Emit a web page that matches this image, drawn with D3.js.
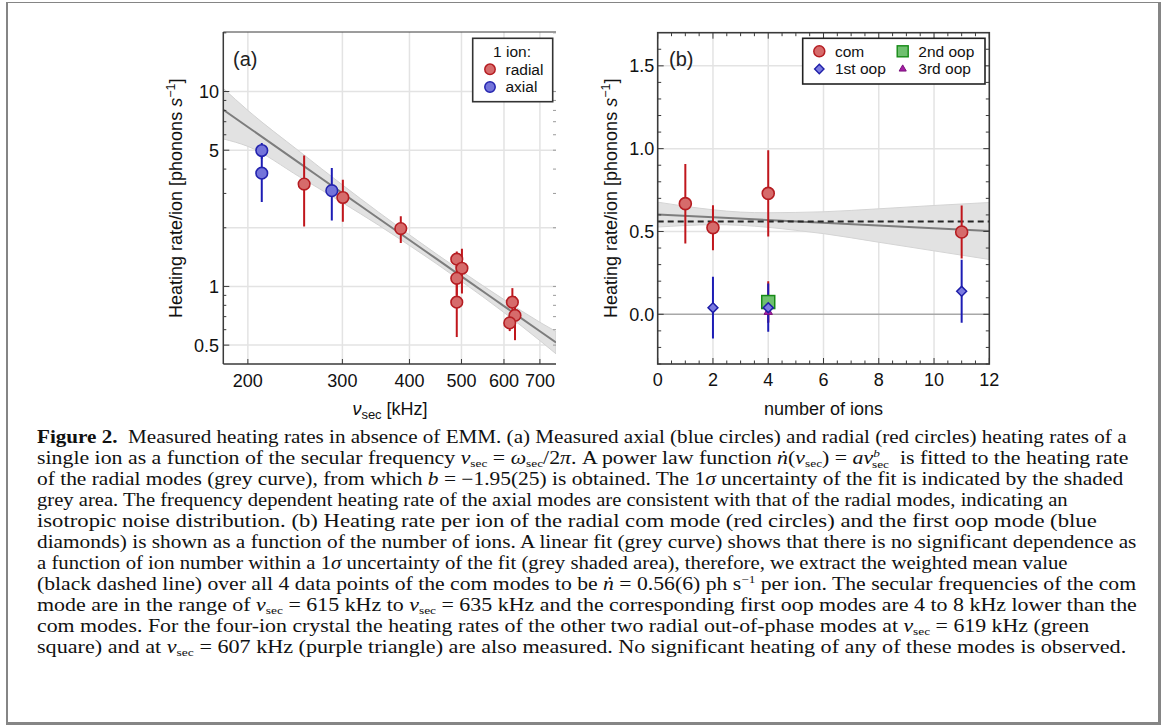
<!DOCTYPE html>
<html>
<head>
<meta charset="utf-8">
<script src="https://cdn.jsdelivr.net/npm/d3@7"></script>
<style>
  html, body { margin: 0; padding: 0; background: #fff; }
  svg { display: block; }
  .sans { font-family: "Liberation Sans", Arial, sans-serif; }
  .serif { font-family: "Liberation Serif", "Times New Roman", serif; }
</style>
</head>
<body>
<svg id="fig" width="1174" height="726"></svg>
<script>
// ---------- Panel (a): single ion, heating rate vs secular frequency ----------
const radialFreq = [254.6, 300.6, 385.4, 490, 501, 490, 490, 622, 629, 615];
const radialRate = [3.35, 2.86, 1.98, 1.38, 1.24, 1.10, 0.83, 0.83, 0.71, 0.65];
const radialLo   = [2.03, 2.15, 1.67, 1.25, 0.92, 0.90, 0.55, 0.68, 0.53, 0.59];
const radialHi   = [4.70, 3.53, 2.29, 1.51, 1.56, 1.30, 1.11, 0.98, 0.89, 0.71];

const axialFreq = [212.3, 212.3, 286.7];
const axialRate = [4.98, 3.81, 3.10];
const axialLo   = [4.52, 2.71, 2.18];
const axialHi   = [5.44, 4.91, 4.05];

// power-law fit and its 1-sigma band
const fitFreq   = [180, 200, 250, 300, 350, 400, 450, 500, 600, 700, 750];
const fitRate   = [8.06, 6.58, 4.28, 3.01, 2.239, 1.73, 1.380, 1.127, 0.793, 0.589, 0.516];
const fitBandLo = [5.71, 5.23, 3.64, 2.69, 2.066, 1.622, 1.303, 1.062, 0.735, 0.527, 0.451];
const fitBandHi = [10.38, 8.00, 4.91, 3.32, 2.41, 1.841, 1.462, 1.197, 0.856, 0.655, 0.587];

const freqTicks = [200, 300, 400, 500, 600, 700];
const rateTicksA = [0.5, 1, 5, 10];
const rateTickLabelsA = ["0.5", "1", "5", "10"];
const rateGridA = [0.5, 1, 2, 5, 10];
const rateMinorA = [0.6, 0.7, 0.8, 0.9, 2, 3, 4, 6, 7, 8, 9, 20];

// ---------- Panel (b): heating rate per ion vs number of ions ----------
const comIons = [1, 2, 4, 11];
const comRate = [0.668, 0.523, 0.730, 0.497];
const comErr  = [0.240, 0.136, 0.260, 0.160];

const oop1Ions = [2, 4, 11];
const oop1Rate = [0.040, 0.040, 0.139];
const oop1Err  = [0.186, 0.146, 0.190];

const oop2Ions = [4];
const oop2Rate = [0.074];
const oop2Err  = [0.126];

const oop3Ions = [4];
const oop3Rate = [0.014];
const oop3Err  = [0.060];

const linFitIons = [0, 12];
const linFitRate = [0.602, 0.503];
const linBandIons = [0, 1, 2, 3, 4, 5, 6, 8, 10, 12];
const linBandLo   = [0.527, 0.536, 0.541, 0.537, 0.525, 0.507, 0.487, 0.435, 0.383, 0.331];
const linBandHi   = [0.677, 0.652, 0.631, 0.617, 0.613, 0.615, 0.619, 0.637, 0.657, 0.675];
const meanRate = 0.56;

const ionTicks = [0, 2, 4, 6, 8, 10, 12];
const rateTicksB = [0.0, 0.5, 1.0, 1.5];

// ---------- Caption ----------
const captionLines = [
  [["Figure 2.", "b"], ["  Measured heating rates in absence of EMM. (a) Measured axial (blue circles) and radial (red circles) heating rates of a", ""]],
  [["single ion as a function of the secular frequency ", ""], ["ν", "i"], ["sec", "sub"], [" = ", ""], ["ω", "i"], ["sec", "sub"], ["/2", ""], ["π", "i"], [". A power law function ", ""], ["ṅ", "i"], ["(", ""], ["ν", "i"], ["sec", "sub"], [") = ", ""], ["aν", "i"], ["b", "supi"], ["sec", "subx"], ["  is fitted to the heating rate", ""]],
  [["of the radial modes (grey curve), from which ", ""], ["b", "i"], [" = −1.95(25) is obtained. The 1", ""], ["σ", "i"], [" uncertainty of the fit is indicated by the shaded", ""]],
  [["grey area. The frequency dependent heating rate of the axial modes are consistent with that of the radial modes, indicating an", ""]],
  [["isotropic noise distribution. (b) Heating rate per ion of the radial com mode (red circles) and the first oop mode (blue", ""]],
  [["diamonds) is shown as a function of the number of ions. A linear fit (grey curve) shows that there is no significant dependence as", ""]],
  [["a function of ion number within a 1", ""], ["σ", "i"], [" uncertainty of the fit (grey shaded area), therefore, we extract the weighted mean value", ""]],
  [["(black dashed line) over all 4 data points of the com modes to be ", ""], ["ṅ", "i"], [" = 0.56(6) ph s", ""], ["−1", "sup"], [" per ion. The secular frequencies of the com", ""]],
  [["mode are in the range of ", ""], ["ν", "i"], ["sec", "sub"], [" = 615 kHz to ", ""], ["ν", "i"], ["sec", "sub"], [" = 635 kHz and the corresponding first oop modes are 4 to 8 kHz lower than the", ""]],
  [["com modes. For the four-ion crystal the heating rates of the other two radial out-of-phase modes at ", ""], ["ν", "i"], ["sec", "sub"], [" = 619 kHz (green", ""]],
  [["square) and at ", ""], ["ν", "i"], ["sec", "sub"], [" = 607 kHz (purple triangle) are also measured. No significant heating of any of these modes is observed.", ""]]
];
const captionLineEnds = [1127, 1137, 1124, 1068, 1097, 1137, 1068, 1137, 1138, 1090, 1127];

// ---------- Drawing ----------
const svg = d3.select("#fig");
svg.append("rect").attr("width", 1174).attr("height", 726).attr("fill", "#fff");

// outer frame of the figure box
const frameCol = "#858585";
svg.append("line").attr("x1", 7).attr("x2", 7).attr("y1", 2).attr("y2", 725).attr("stroke", frameCol).attr("stroke-width", 2);
svg.append("line").attr("x1", 6).attr("x2", 1161).attr("y1", 2.5).attr("y2", 2.5).attr("stroke", frameCol).attr("stroke-width", 1);
svg.append("line").attr("x1", 1159.5).attr("x2", 1159.5).attr("y1", 2).attr("y2", 725).attr("stroke", frameCol).attr("stroke-width", 3);
svg.append("line").attr("x1", 6).attr("x2", 1161).attr("y1", 723.5).attr("y2", 723.5).attr("stroke", frameCol).attr("stroke-width", 3);

const defs = svg.append("defs");
const axisCol = "#3a3a3a";
const gridCol = "#e3e3e3";
const redFill = "#d66b6b", redStroke = "#b51d22", redBar = "#c0161c";
const blueFill = "#7474da", blueStroke = "#2323ae", blueBar = "#1d1db5";
const tickFont = 18, titleFont = 18;

// ===== Panel (a) =====
const A = { l: 223.3, r: 556, t: 32, b: 364 };
const xA = d3.scaleLog().domain([180, 750]).range([A.l, A.r]);
const yA = d3.scaleLog().domain([0.4, 20.2]).range([A.b, A.t]);
defs.append("clipPath").attr("id", "clipA").append("rect")
  .attr("x", A.l).attr("y", A.t).attr("width", A.r - A.l).attr("height", A.b - A.t);

const gA = svg.append("g");
const gridA = gA.append("g");
gridA.selectAll("line.v").data(freqTicks).join("line")
  .attr("x1", d => xA(d)).attr("x2", d => xA(d)).attr("y1", A.t).attr("y2", A.b)
  .attr("stroke", gridCol).attr("stroke-width", 1.5);
gridA.selectAll("line.h").data(rateGridA).join("line")
  .attr("x1", A.l).attr("x2", A.r).attr("y1", d => yA(d)).attr("y2", d => yA(d))
  .attr("stroke", gridCol).attr("stroke-width", 1.5);

const plotA = gA.append("g").attr("clip-path", "url(#clipA)");
const bandA = fitFreq.map((f, i) => ({ f, lo: fitBandLo[i], hi: fitBandHi[i] }));
plotA.append("path").datum(bandA)
  .attr("d", d3.area().curve(d3.curveMonotoneX).x(d => xA(d.f)).y0(d => yA(d.lo)).y1(d => yA(d.hi)))
  .attr("fill", "#e2e2e2").attr("stroke", "#d2d2d2").attr("stroke-width", 1);
plotA.append("path").datum(fitFreq.map((f, i) => [f, fitRate[i]]))
  .attr("d", d3.line().curve(d3.curveMonotoneX).x(d => xA(d[0])).y(d => yA(d[1])))
  .attr("fill", "none").attr("stroke", "#7d7d7d").attr("stroke-width", 2);

// frame & ticks (a)
gA.append("line").attr("x1", A.l).attr("x2", A.l).attr("y1", A.t).attr("y2", A.b).attr("stroke", axisCol).attr("stroke-width", 1.5);
gA.append("line").attr("x1", A.l).attr("x2", A.r).attr("y1", A.b).attr("y2", A.b).attr("stroke", axisCol).attr("stroke-width", 1.5);
gA.append("line").attr("x1", A.l).attr("x2", A.r).attr("y1", A.t).attr("y2", A.t).attr("stroke", axisCol).attr("stroke-width", 1);
gA.selectAll("line.xt").data(freqTicks).join("line")
  .attr("x1", d => xA(d)).attr("x2", d => xA(d)).attr("y1", A.b).attr("y2", A.b - 5)
  .attr("stroke", axisCol).attr("stroke-width", 1);
gA.selectAll("line.ytl").data(rateTicksA).join("line")
  .attr("x1", A.l).attr("x2", A.l + 6).attr("y1", d => yA(d)).attr("y2", d => yA(d))
  .attr("stroke", axisCol).attr("stroke-width", 1);
gA.selectAll("line.ytm").data(rateMinorA).join("line")
  .attr("x1", A.l).attr("x2", A.l + 3).attr("y1", d => yA(d)).attr("y2", d => yA(d))
  .attr("stroke", axisCol).attr("stroke-width", 1);
gA.selectAll("line.ytr").data(rateTicksA.concat(rateMinorA)).join("line")
  .attr("x1", A.r).attr("x2", A.r - 3).attr("y1", d => yA(d)).attr("y2", d => yA(d))
  .attr("stroke", "#9a9a9a").attr("stroke-width", 1);

gA.selectAll("text.xl").data(freqTicks).join("text").attr("class", "sans")
  .attr("x", d => xA(d)).attr("y", 386.5).attr("text-anchor", "middle")
  .attr("font-size", tickFont).attr("fill", "#111").text(d => d);
gA.selectAll("text.yl").data(rateTicksA).join("text").attr("class", "sans")
  .attr("x", 219).attr("y", d => yA(d) + 6.4).attr("text-anchor", "end")
  .attr("font-size", tickFont).attr("fill", "#111").text((d, i) => rateTickLabelsA[i]);

// error bars and markers (a)
function vbars(g, xs, ylo, yhi, xScale, yScale, col) {
  g.selectAll(null).data(xs).join("line")
    .attr("x1", (d) => xScale(d)).attr("x2", d => xScale(d))
    .attr("y1", (d, i) => yScale(ylo[i])).attr("y2", (d, i) => yScale(yhi[i]))
    .attr("stroke", col).attr("stroke-width", 2);
}
vbars(plotA, radialFreq, radialLo, radialHi, xA, yA, redBar);
vbars(plotA, axialFreq, axialLo, axialHi, xA, yA, blueBar);
plotA.selectAll("circle.rad").data(radialFreq).join("circle")
  .attr("cx", d => xA(d)).attr("cy", (d, i) => yA(radialRate[i])).attr("r", 5.8)
  .attr("fill", redFill).attr("stroke", redStroke).attr("stroke-width", 1.6);
plotA.selectAll("circle.ax").data(axialFreq).join("circle")
  .attr("cx", d => xA(d)).attr("cy", (d, i) => yA(axialRate[i])).attr("r", 5.8)
  .attr("fill", blueFill).attr("stroke", blueStroke).attr("stroke-width", 1.6);

// panel label and legend (a)
gA.append("text").attr("class", "sans").attr("x", 233).attr("y", 66).attr("font-size", 20).attr("fill", "#222").text("(a)");
const legA = gA.append("g");
legA.append("rect").attr("x", 472.7).attr("y", 38.3).attr("width", 80).attr("height", 63.4)
  .attr("fill", "#fff").attr("stroke", "#333").attr("stroke-width", 1.6);
legA.append("text").attr("class", "sans").attr("x", 512).attr("y", 56.5).attr("text-anchor", "middle").attr("font-size", 15.5).attr("fill", "#111").text("1 ion:");
legA.append("circle").attr("cx", 490).attr("cy", 69.3).attr("r", 5.2).attr("fill", redFill).attr("stroke", redStroke).attr("stroke-width", 1.5);
legA.append("text").attr("class", "sans").attr("x", 505.5).attr("y", 74.5).attr("font-size", 15.5).attr("fill", "#111").text("radial");
legA.append("circle").attr("cx", 490).attr("cy", 87).attr("r", 5.2).attr("fill", blueFill).attr("stroke", blueStroke).attr("stroke-width", 1.5);
legA.append("text").attr("class", "sans").attr("x", 505.5).attr("y", 92).attr("font-size", 15.5).attr("fill", "#111").text("axial");

// axis titles (a)
const ytA = gA.append("text").attr("class", "sans").attr("font-size", titleFont).attr("fill", "#111")
  .attr("text-anchor", "middle").attr("transform", "translate(181.5,198.3) rotate(-90)");
ytA.append("tspan").text("Heating rate/ion [phonons ");
ytA.append("tspan").attr("font-style", "italic").text("s");
ytA.append("tspan").attr("dy", -7).attr("font-size", 12.5).text("−1");
ytA.append("tspan").attr("dy", 7).text("]");
const xtA = gA.append("text").attr("class", "sans").attr("font-size", titleFont).attr("fill", "#111")
  .attr("text-anchor", "middle").attr("x", 390).attr("y", 414.5);
xtA.append("tspan").attr("font-style", "italic").text("ν");
xtA.append("tspan").attr("dy", 4).attr("font-size", 13).text("sec");
xtA.append("tspan").attr("dy", -4).text(" [kHz]");

// ===== Panel (b) =====
const B = { l: 657.7, r: 989.3, t: 32.7, b: 364 };
const xB = d3.scaleLinear().domain([0, 12]).range([B.l, B.r]);
const yB = d3.scaleLinear().domain([-0.3, 1.7]).range([B.b, B.t]);
defs.append("clipPath").attr("id", "clipB").append("rect")
  .attr("x", B.l).attr("y", B.t).attr("width", B.r - B.l).attr("height", B.b - B.t);

const gB = svg.append("g");
gB.selectAll("line.gv").data(ionTicks.slice(1, -1)).join("line")
  .attr("x1", d => xB(d)).attr("x2", d => xB(d)).attr("y1", B.t).attr("y2", B.b)
  .attr("stroke", gridCol).attr("stroke-width", 1.5);
gB.selectAll("line.gh").data(rateTicksB.slice(1)).join("line")
  .attr("x1", B.l).attr("x2", B.r).attr("y1", d => yB(d)).attr("y2", d => yB(d))
  .attr("stroke", gridCol).attr("stroke-width", 1.5);
gB.append("line").attr("x1", B.l).attr("x2", B.r).attr("y1", yB(0)).attr("y2", yB(0))
  .attr("stroke", "#a8a8a8").attr("stroke-width", 1.6);

const plotB = gB.append("g").attr("clip-path", "url(#clipB)");
const bandB = linBandIons.map((n, i) => ({ n, lo: linBandLo[i], hi: linBandHi[i] }));
plotB.append("path").datum(bandB)
  .attr("d", d3.area().curve(d3.curveMonotoneX).x(d => xB(d.n)).y0(d => yB(d.lo)).y1(d => yB(d.hi)))
  .attr("fill", "#e2e2e2").attr("stroke", "#d4d4d4").attr("stroke-width", 1);
plotB.append("path").datum(linFitIons.map((n, i) => [n, linFitRate[i]]))
  .attr("d", d3.line().x(d => xB(d[0])).y(d => yB(d[1])))
  .attr("fill", "none").attr("stroke", "#7d7d7d").attr("stroke-width", 2);
plotB.append("line").attr("x1", xB(0)).attr("x2", xB(12)).attr("y1", yB(meanRate)).attr("y2", yB(meanRate))
  .attr("stroke", "#262626").attr("stroke-width", 2).attr("stroke-dasharray", "6,4");

function symBars(g, xs, ys, es, col) {
  g.selectAll(null).data(xs).join("line")
    .attr("x1", d => xB(d)).attr("x2", d => xB(d))
    .attr("y1", (d, i) => yB(ys[i] - es[i])).attr("y2", (d, i) => yB(ys[i] + es[i]))
    .attr("stroke", col).attr("stroke-width", 2);
}
symBars(plotB, comIons, comRate, comErr, redBar);
symBars(plotB, oop2Ions, oop2Rate, oop2Err, redBar);
symBars(plotB, oop3Ions, oop3Rate, oop3Err, "#8a1a8a");
symBars(plotB, oop1Ions, oop1Rate, oop1Err, blueBar);

plotB.selectAll("circle.com").data(comIons).join("circle")
  .attr("cx", d => xB(d)).attr("cy", (d, i) => yB(comRate[i])).attr("r", 6)
  .attr("fill", redFill).attr("stroke", redStroke).attr("stroke-width", 1.6);
plotB.selectAll("rect.o2").data(oop2Ions).join("rect")
  .attr("x", d => xB(d) - 6.5).attr("y", (d, i) => yB(oop2Rate[i]) - 6.5).attr("width", 13).attr("height", 13)
  .attr("fill", "#6fc06f").attr("stroke", "#168a16").attr("stroke-width", 1.5);
const tri = d3.symbol().type(d3.symbolTriangle).size(30);
plotB.selectAll("path.o3").data(oop3Ions).join("path")
  .attr("transform", (d, i) => `translate(${xB(d)},${yB(oop3Rate[i])})`).attr("d", tri)
  .attr("fill", "#a51ea5").attr("stroke", "#7a0f7a").attr("stroke-width", 1);
const diamond = d3.symbol().type(d3.symbolDiamond2).size(62);
plotB.selectAll("path.o1").data(oop1Ions).join("path")
  .attr("transform", (d, i) => `translate(${xB(d)},${yB(oop1Rate[i])})`).attr("d", diamond)
  .attr("fill", "#7b7be0").attr("stroke", "#1e1ea8").attr("stroke-width", 1.5);

// frame & ticks (b)
gB.append("rect").attr("x", B.l).attr("y", B.t).attr("width", B.r - B.l).attr("height", B.b - B.t)
  .attr("fill", "none").attr("stroke", axisCol).attr("stroke-width", 1.6);
const xMinorB = d3.range(0, 12.01, 0.5).filter(v => v % 2 !== 0);
const yMinorB = d3.range(-3, 17).map(v => v / 10).filter(v => Math.abs(v * 2 - Math.round(v * 2)) > 1e-6);
gB.selectAll("line.xtb").data(ionTicks.concat(xMinorB)).join("line")
  .attr("x1", d => xB(d)).attr("x2", d => xB(d)).attr("y1", B.b).attr("y2", d => B.b - (d % 2 === 0 ? 6 : 3.5))
  .attr("stroke", axisCol).attr("stroke-width", 1);
gB.selectAll("line.xtt").data(ionTicks.concat(xMinorB)).join("line")
  .attr("x1", d => xB(d)).attr("x2", d => xB(d)).attr("y1", B.t).attr("y2", d => B.t + (d % 2 === 0 ? 6 : 3.5))
  .attr("stroke", axisCol).attr("stroke-width", 1);
gB.selectAll("line.ytl").data(rateTicksB.concat(yMinorB)).join("line")
  .attr("x1", B.l).attr("x2", (d, i) => B.l + (i < rateTicksB.length ? 6 : 3.5)).attr("y1", d => yB(d)).attr("y2", d => yB(d))
  .attr("stroke", axisCol).attr("stroke-width", 1);
gB.selectAll("line.ytr").data(rateTicksB.concat(yMinorB)).join("line")
  .attr("x1", B.r).attr("x2", (d, i) => B.r - (i < rateTicksB.length ? 6 : 3.5)).attr("y1", d => yB(d)).attr("y2", d => yB(d))
  .attr("stroke", axisCol).attr("stroke-width", 1);

gB.selectAll("text.xl").data(ionTicks).join("text").attr("class", "sans")
  .attr("x", d => xB(d)).attr("y", 386).attr("text-anchor", "middle")
  .attr("font-size", tickFont).attr("fill", "#111").text(d => d);
gB.selectAll("text.yl").data(rateTicksB).join("text").attr("class", "sans")
  .attr("x", 654.3).attr("y", d => yB(d) + 6.4).attr("text-anchor", "end")
  .attr("font-size", tickFont).attr("fill", "#111").text(d => d.toFixed(1));

gB.append("text").attr("class", "sans").attr("x", 669).attr("y", 66).attr("font-size", 20).attr("fill", "#222").text("(b)");

// legend (b)
const legB = gB.append("g");
legB.append("rect").attr("x", 802.7).attr("y", 38.3).attr("width", 182.3).attr("height", 45.7)
  .attr("fill", "#fff").attr("stroke", "#222").attr("stroke-width", 1.6);
legB.append("circle").attr("cx", 819.3).attr("cy", 51.3).attr("r", 5.5).attr("fill", redFill).attr("stroke", redStroke).attr("stroke-width", 1.5);
legB.append("text").attr("class", "sans").attr("x", 835).attr("y", 56.5).attr("font-size", 15.5).attr("fill", "#111").text("com");
legB.append("rect").attr("x", 897.2).attr("y", 45.8).attr("width", 11).attr("height", 11).attr("fill", "#6fc06f").attr("stroke", "#168a16").attr("stroke-width", 1.4);
legB.append("text").attr("class", "sans").attr("x", 918.3).attr("y", 56.5).attr("font-size", 15.5).attr("fill", "#111").text("2nd oop");
legB.append("path").attr("transform", "translate(819.3,69)").attr("d", d3.symbol().type(d3.symbolDiamond2).size(56))
  .attr("fill", "#7b7be0").attr("stroke", "#1e1ea8").attr("stroke-width", 1.4);
legB.append("text").attr("class", "sans").attr("x", 835).attr("y", 74.3).attr("font-size", 15.5).attr("fill", "#111").text("1st oop");
legB.append("path").attr("transform", "translate(902.7,69)").attr("d", d3.symbol().type(d3.symbolTriangle).size(22))
  .attr("fill", "#a51ea5").attr("stroke", "#7a0f7a").attr("stroke-width", 1);
legB.append("text").attr("class", "sans").attr("x", 918.3).attr("y", 74.3).attr("font-size", 15.5).attr("fill", "#111").text("3rd oop");

// axis titles (b)
const ytB = gB.append("text").attr("class", "sans").attr("font-size", titleFont).attr("fill", "#111")
  .attr("text-anchor", "middle").attr("transform", "translate(616.5,198.3) rotate(-90)");
ytB.append("tspan").text("Heating rate/ion [phonons ");
ytB.append("tspan").attr("font-style", "italic").text("s");
ytB.append("tspan").attr("dy", -7).attr("font-size", 12.5).text("−1");
ytB.append("tspan").attr("dy", 7).text("]");
gB.append("text").attr("class", "sans").attr("font-size", titleFont).attr("fill", "#111")
  .attr("text-anchor", "middle").attr("x", 823.5).attr("y", 415).text("number of ions");

// ===== Caption =====
const capG = svg.append("g");
captionLines.forEach((segs, li) => {
  const baseY = 443 + li * 21;
  const wrap = capG.append("g").attr("transform", `translate(37,${baseY})`);
  const t = wrap.append("text").attr("class", "serif").attr("font-size", 18).attr("fill", "#111")
    .attr("x", 0).attr("y", 0).style("white-space", "pre");
  let shift = 0;
  segs.forEach(([str, kind]) => {
    const sp = t.append("tspan").text(str);
    let target = 0;
    if (kind === "b") sp.attr("font-weight", "bold");
    if (kind === "i") sp.attr("font-style", "italic");
    if (kind === "sub") { target = 3; sp.attr("font-size", 11); }
    if (kind === "sup") { target = -7; sp.attr("font-size", 11); }
    if (kind === "supi") { target = -7; sp.attr("font-size", 11).attr("font-style", "italic"); }
    if (kind === "subx") { target = 3.5; sp.attr("font-size", 11).attr("dx", -6.5); }
    if (target !== shift) { sp.attr("dy", target - shift); shift = target; }
  });
  const w = t.node().getComputedTextLength();
  const k = (captionLineEnds[li] - 37) / w;
  wrap.attr("transform", `translate(37,${baseY}) scale(${k},1)`);
});
</script>
</body>
</html>
